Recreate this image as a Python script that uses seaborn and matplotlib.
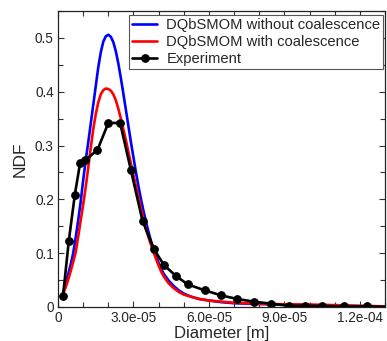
import numpy as np
import pandas as pd
import matplotlib
matplotlib.use("Agg")
import matplotlib.pyplot as plt
import seaborn as sns
from matplotlib.ticker import MultipleLocator, FuncFormatter

# ---- data (diameter in micrometres, converted to metres below) ----
model_x_um = [2, 3, 4, 5, 6, 7, 8, 9, 10, 11, 12, 13, 14, 15, 16, 17, 18, 19, 20,
              21, 22, 23, 24, 25, 26, 27, 28, 29, 30, 31, 32, 33, 34, 35, 36, 37, 38,
              39, 40, 41, 42, 44, 46, 48, 50, 53, 56, 60, 65, 70, 80, 90, 100, 110,
              120, 130]
no_coal = [0.026, 0.043, 0.060, 0.078, 0.099, 0.128, 0.160, 0.195, 0.235, 0.272,
           0.305, 0.340, 0.375, 0.410, 0.445, 0.473, 0.493, 0.503, 0.506,
           0.502, 0.492, 0.475, 0.452, 0.425, 0.396, 0.366, 0.336, 0.306, 0.278,
           0.250, 0.224, 0.200, 0.178, 0.158, 0.139, 0.122, 0.108, 0.094, 0.082,
           0.071, 0.062, 0.049, 0.039, 0.031, 0.025, 0.019, 0.015, 0.012, 0.009,
           0.007, 0.0055, 0.0045, 0.0035, 0.0025, 0.0018, 0.0012]
with_coal = [0.024, 0.036, 0.050, 0.066, 0.083, 0.101, 0.130, 0.160, 0.190, 0.222,
             0.258, 0.295, 0.330, 0.358, 0.380, 0.395, 0.403, 0.406, 0.405,
             0.402, 0.395, 0.384, 0.368, 0.350, 0.330, 0.310, 0.288, 0.266, 0.245,
             0.224, 0.203, 0.183, 0.163, 0.145, 0.129, 0.115, 0.102, 0.089, 0.077,
             0.066, 0.057, 0.044, 0.035, 0.028, 0.023, 0.019, 0.015, 0.012, 0.010,
             0.008, 0.006, 0.005, 0.0045, 0.0035, 0.002, 0.001]
exp_x_um = [2.0, 4.3, 6.7, 8.8, 10.9, 15.7, 20.0, 24.7, 29.0, 33.6, 38.1, 42.1,
            46.8, 51.6, 58.3, 64.9, 71.3, 78.1, 84.8, 91.7, 98.3, 104.9, 113.7,
            122.9, 131.0]
exp_y = [0.021, 0.123, 0.209, 0.268, 0.273, 0.292, 0.342, 0.342, 0.254, 0.160,
         0.108, 0.078, 0.058, 0.042, 0.031, 0.0216, 0.0148, 0.0098, 0.0061,
         0.0024, 0.0024, 0.0020, 0.0010, 0.0010, 0.0]

labels = ["DQbSMOM without coalescence", "DQbSMOM with coalescence", "Experiment"]

df_model = pd.DataFrame({"x": np.array(model_x_um) * 1e-6,
                         "no": no_coal, "with": with_coal})
df_exp = pd.DataFrame({"x": np.array(exp_x_um) * 1e-6, "y": exp_y})

sns.set_theme(style="ticks")
plt.rcParams["font.family"] = ["Liberation Sans", "DejaVu Sans"]

fig = plt.figure(figsize=(3.87, 3.41), dpi=100)
ax = fig.add_axes([58 / 387, 1 - 307 / 341, (385 - 58) / 387, (307 - 11) / 341])

sns.lineplot(data=df_model, x="x", y="no", ax=ax, color="#0000ff", lw=1.9,
             estimator=None, sort=False, label=labels[0])
sns.lineplot(data=df_model, x="x", y="with", ax=ax, color="#ff0000", lw=1.9,
             estimator=None, sort=False, label=labels[1])
sns.lineplot(data=df_exp, x="x", y="y", ax=ax, color="black", lw=1.9,
             marker="o", markersize=5.5, markeredgecolor="black",
             estimator=None, sort=False, label=labels[2])

ax.set_xlim(0, 1.3e-4)
ax.set_ylim(0, 0.55)
ax.xaxis.set_major_locator(MultipleLocator(3e-5))
ax.xaxis.set_minor_locator(MultipleLocator(1e-5))
ax.yaxis.set_major_locator(MultipleLocator(0.1))
ax.yaxis.set_minor_locator(MultipleLocator(0.05))


def xfmt(v, pos):
    if abs(v) < 1e-12:
        return "0"
    m, e = f"{v:.1e}".split("e")
    return f"{m}e{e[0]}{e[1:].zfill(2)}"


def yfmt(v, pos):
    if abs(v) < 1e-12:
        return "0"
    return f"{v:.1f}"


ax.xaxis.set_major_formatter(FuncFormatter(xfmt))
ax.yaxis.set_major_formatter(FuncFormatter(yfmt))
ax.tick_params(which="both", direction="in", top=True, right=True,
               labelsize=9.8, color="#333333", width=0.8, pad=3)
ax.tick_params(which="major", length=4.5)
ax.tick_params(which="minor", length=3.5)
for s in ax.spines.values():
    s.set_linewidth(0.9)
    s.set_color("#222222")

ax.set_xlabel("Diameter [m]", fontsize=12, labelpad=0.5)
ax.set_ylabel("NDF", fontsize=12.5, labelpad=5)

leg = ax.legend(loc="upper right", bbox_to_anchor=(0.995, 0.985), fontsize=10.6,
                frameon=True, fancybox=False, framealpha=1, edgecolor="#555555",
                handlelength=1.7, handletextpad=0.6, borderpad=0.2,
                labelspacing=0.2, borderaxespad=0.0)
leg.get_frame().set_linewidth(0.8)

fig.savefig("out.png", dpi=100)
